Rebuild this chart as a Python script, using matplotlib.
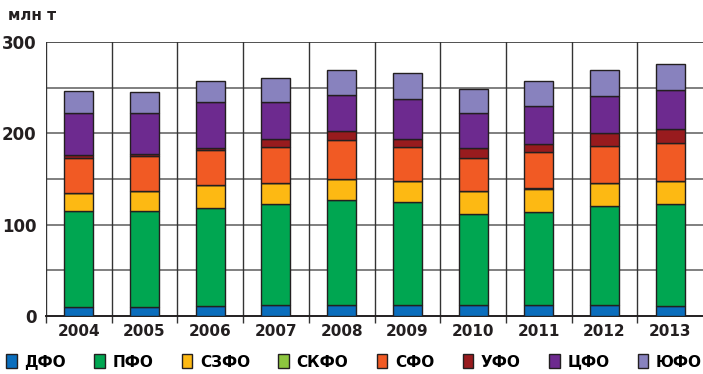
import numpy as np
import matplotlib
matplotlib.use('Agg')
import matplotlib.pyplot as plt
from matplotlib.patches import Patch

plt.rcParams['font.family'] = ['DejaVu Sans']
plt.rcParams['font.weight'] = 'bold'

# ---- данные (млн т) ----
years = ['2004', '2005', '2006', '2007', '2008', '2009', '2010', '2011', '2012', '2013']
okruga = ['ДФО', 'ПФО', 'СЗФО', 'СКФО', 'СФО', 'УФО', 'ЦФО', 'ЮФО']
dfo  = [10.2, 10.2, 10.6, 12.4, 12.4, 12.4, 11.7, 12.4, 11.7, 11.0]
pfo  = [104.6, 104.6, 107.2, 110.1, 114.2, 112.0, 100.2, 101.7, 108.6, 111.2]
szfo = [19.4, 21.6, 25.6, 22.7, 23.0, 23.0, 24.9, 25.3, 25.3, 25.2]
skfo = [0.3, 0.3, 0.3, 0.3, 0.3, 0.3, 0.3, 0.3, 0.3, 0.3]
sfo  = [38.9, 38.1, 38.1, 39.9, 43.2, 37.7, 36.3, 39.5, 39.9, 41.4]
ufo  = [2.5, 2.6, 2.2, 8.5, 9.2, 8.5, 10.2, 8.8, 14.3, 15.4]
cfo  = [46.1, 44.6, 50.1, 40.5, 39.5, 43.5, 38.4, 42.4, 40.9, 42.8]
yufo = [24.5, 23.0, 23.0, 26.6, 27.6, 28.5, 26.4, 27.1, 27.8, 28.8]

series = [dfo, pfo, szfo, skfo, sfo, ufo, cfo, yufo]
colors = ['#0A6EBD', '#00A651', '#FDB913', '#8DC63F', '#F15A24', '#981B1E', '#6D2A8F', '#8882BE']

fig = plt.figure(figsize=(7.03, 3.74), dpi=100)
ax = fig.add_axes([46/703, 1 - 316/374, 657/703, 274/374])

x = np.arange(len(years))
bottom = np.zeros(len(years))
for vals, c in zip(series, colors):
    ax.bar(x, vals, 0.44, bottom=bottom, color=c, edgecolor='#231F20',
           linewidth=1.0, zorder=3)
    bottom += np.array(vals)

ax.set_xlim(-0.5, len(years) - 0.5)
ax.set_ylim(0, 300)

# сетка
for yv in [50, 100, 150, 200, 250]:
    ax.axhline(yv, color='#7F7F7F', linewidth=1.4, zorder=1)
ax.axhline(300, color='#333333', linewidth=1.2, zorder=1)
for xv in np.arange(-0.5, len(years) - 0.5, 1.0):
    ax.axvline(xv, color='#333333', linewidth=1.0, zorder=1)

for s in ['top', 'right', 'left']:
    ax.spines[s].set_visible(False)
ax.spines['bottom'].set_color('#231F20')
ax.spines['bottom'].set_linewidth(1.4)

ax.set_yticks([0, 100, 200, 300])
ax.set_yticklabels(['0', '100', '200', '300'], fontsize=12, fontweight='bold', color='#231F20')
ax.tick_params(axis='y', length=0, pad=7)

ax.set_xticks(np.arange(-0.5, len(years) - 0.5, 1.0), minor=True)
ax.set_xticks(x)
ax.set_xticklabels(years, fontsize=11, fontweight='bold', color='#231F20')
ax.tick_params(axis='x', which='major', length=0, pad=6)
ax.tick_params(axis='x', which='minor', length=5, width=1, color='#333333')

fig.text(8/703, 1 - 16/374, 'млн т', fontsize=11, fontweight='bold',
         color='#231F20', va='center', ha='left')

handles = [Patch(facecolor=c, edgecolor='#231F20', linewidth=1.0) for c in colors]
fig.legend(handles, okruga, loc='center left', mode='expand',
           bbox_to_anchor=(6/703, 1 - 362/374, 696/703, 0),
           ncol=8, frameon=False, fontsize=11, handlelength=0.7, handleheight=1.0,
           handletextpad=0.5, borderaxespad=0, borderpad=0)

plt.savefig('out.png', dpi=100)
plt.close()
